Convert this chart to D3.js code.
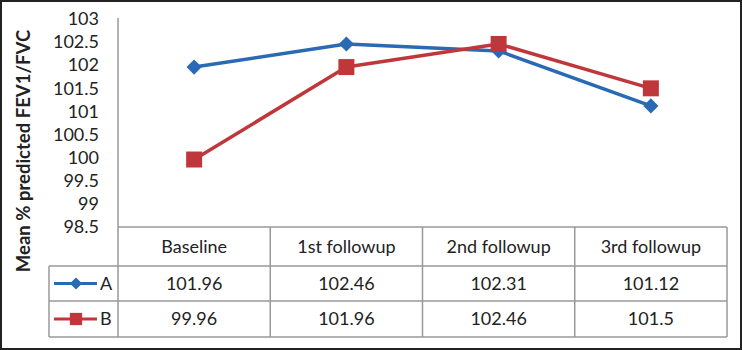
<!DOCTYPE html>
<html>
<head>
<meta charset="utf-8">
<script src="https://cdn.jsdelivr.net/npm/d3@7"></script>
<style>
  body { margin: 0; background: #fff; }
  text { font-family: Lato, "Open Sans", sans-serif; fill: #222; }
</style>
</head>
<body>
<script>
var categories = ["Baseline", "1st followup", "2nd followup", "3rd followup"];
var seriesNames = ["A", "B"];
var valuesA = [101.96, 102.46, 102.31, 101.12];
var valuesB = [99.96, 101.96, 102.46, 101.5];
var yTicks = [98.5, 99, 99.5, 100, 100.5, 101, 101.5, 102, 102.5, 103];

var svg = d3.select("body")
    .append("svg")
    .attr("width", "742")
    .attr("height", "350")
    .style("display", "block");

// outer frame
svg.append("rect")
    .attr("x", 1).attr("y", 1)
    .attr("width", 740).attr("height", 348)
    .attr("fill", "#fff")
    .attr("stroke", "#222")
    .attr("stroke-width", 2);

var plotLeft = 118, plotRight = 727, plotTop = 19, plotBottom = 227;
var rowLines = [227, 266, 301, 337];
var legendLeft = 49;
var fs = "18px";

var x = d3.scaleBand()
    .domain(categories)
    .range([plotLeft, plotRight]);

var y = d3.scaleLinear()
    .domain([98.5, 103])
    .range([plotBottom, plotTop]);

var yAxis = d3.axisLeft(y)
    .tickValues(yTicks)
    .tickSize(0)
    .tickPadding(19)
    .tickFormat(function(d) { return d3.format("")(d); });

var gy = svg.append("g")
    .attr("transform", "translate(" + plotLeft + ",0)")
    .call(yAxis);
gy.select(".domain").remove();
gy.selectAll("text")
    .style("font-size", fs)
    .style("font-family", "Lato, sans-serif")
    .attr("fill", "#222");

// y axis line continues through the table
svg.append("line")
    .attr("x1", plotLeft).attr("x2", plotLeft)
    .attr("y1", plotTop - 1).attr("y2", rowLines[3])
    .attr("stroke", "#999").attr("stroke-width", 1.5);

svg.append("text")
    .attr("transform", "translate(30,151) rotate(-90)")
    .attr("text-anchor", "middle")
    .style("font-size", "18.5px")
    .style("font-weight", "bold")
    .text("Mean % predicted FEV1/FVC");

// data table grid
var grid = svg.append("g").attr("stroke", "#999").attr("stroke-width", 1.5);
grid.append("line").attr("x1", plotLeft).attr("x2", plotRight).attr("y1", rowLines[0]).attr("y2", rowLines[0]);
rowLines.slice(1).forEach(function(r) {
    grid.append("line").attr("x1", legendLeft).attr("x2", plotRight).attr("y1", r).attr("y2", r);
});
grid.append("line").attr("x1", legendLeft).attr("x2", legendLeft).attr("y1", rowLines[1]).attr("y2", rowLines[3]);
categories.forEach(function(c) {
    var xr = x(c) + x.bandwidth();
    grid.append("line").attr("x1", xr).attr("x2", xr).attr("y1", rowLines[0]).attr("y2", rowLines[3]);
});

svg.selectAll(".cat")
    .data(categories)
    .enter()
    .append("text")
    .attr("class", "cat")
    .attr("x", function(d) { return x(d) + x.bandwidth() / 2; })
    .attr("y", (rowLines[0] + rowLines[1]) / 2)
    .attr("dy", "0.35em")
    .attr("text-anchor", "middle")
    .style("font-size", fs)
    .text(function(d) { return d; });

// diamond = square turned by 45 degrees
var series = [
    {name: seriesNames[0], values: valuesA, color: "#2a6ab5", size: 115, rot: 45, keySize: 75},
    {name: seriesNames[1], values: valuesB, color: "#c0373b", size: 256, rot: 0, keySize: 150}
];

var line = d3.line()
    .x(function(d, i) { return x(categories[i]) + x.bandwidth() / 2; })
    .y(function(d) { return y(d); });

series.forEach(function(s, k) {
    var rowY = (rowLines[k + 1] + rowLines[k + 2]) / 2;

    svg.append("path")
        .datum(s.values)
        .attr("d", line)
        .attr("fill", "none")
        .attr("stroke", s.color)
        .attr("stroke-width", 3.5)
        .attr("stroke-linejoin", "round");

    svg.selectAll(".pt" + k)
        .data(s.values)
        .enter()
        .append("path")
        .attr("class", "pt" + k)
        .attr("d", d3.symbol().type(d3.symbolSquare).size(s.size))
        .attr("transform", function(d, i) {
            return "translate(" + (x(categories[i]) + x.bandwidth() / 2) + "," + y(d) + ") rotate(" + s.rot + ")";
        })
        .attr("fill", s.color);

    // table values
    svg.selectAll(".val" + k)
        .data(s.values)
        .enter()
        .append("text")
        .attr("class", "val" + k)
        .attr("x", function(d, i) { return x(categories[i]) + x.bandwidth() / 2; })
        .attr("y", rowY)
        .attr("dy", "0.35em")
        .attr("text-anchor", "middle")
        .style("font-size", fs)
        .text(function(d) { return d; });

    // legend key
    svg.append("line")
        .attr("x1", 54).attr("x2", 97)
        .attr("y1", rowY).attr("y2", rowY)
        .attr("stroke", s.color).attr("stroke-width", 3);
    svg.append("path")
        .attr("d", d3.symbol().type(d3.symbolSquare).size(s.keySize))
        .attr("transform", "translate(76," + rowY + ") rotate(" + s.rot + ")")
        .attr("fill", s.color);
    svg.append("text")
        .attr("x", 100)
        .attr("y", rowY)
        .attr("dy", "0.35em")
        .style("font-size", fs)
        .text(s.name);
});
</script>
</body>
</html>
